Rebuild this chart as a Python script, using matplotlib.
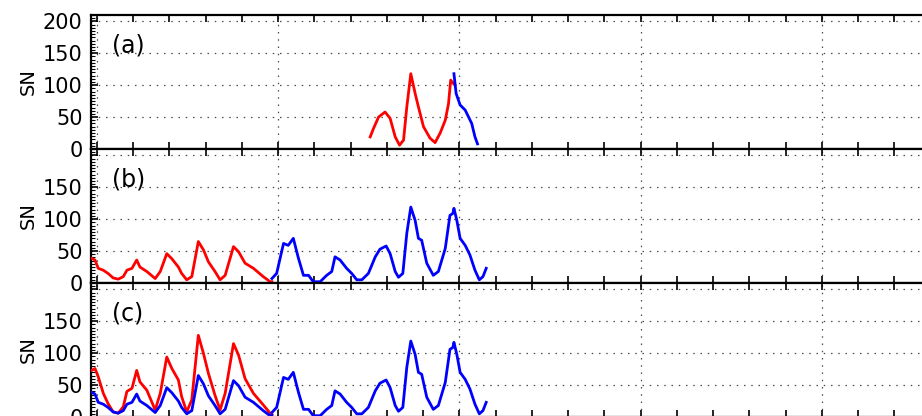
import numpy as np
import matplotlib
matplotlib.use("Agg")
import matplotlib.pyplot as plt
from matplotlib.ticker import MultipleLocator

# early record (before ~1648)
early_years = [1598.6, 1599.5, 1600.4, 1601.8, 1603.1, 1604.5, 1605.9, 1607.3, 1608.3, 1609.7,
               1611.0, 1611.9, 1613.8, 1616.1, 1617.5, 1619.3, 1620.7, 1622.5, 1623.4, 1624.8,
               1626.2, 1628.0, 1629.4, 1630.8, 1632.6, 1634.0, 1635.4, 1637.7, 1639.1, 1640.9,
               1643.2, 1645.9, 1647.8, 1648.3]
early_sn = [38.6, 36, 23, 20, 15, 8, 6, 10, 20, 23,
            36, 25, 18, 7, 18, 46, 38, 25, 15, 5,
            10, 65, 52, 33, 18, 5, 12, 57, 49, 31,
            23, 10, 2, 2]
early_sn_scaled = [73, 76, 63, 37, 21, 8, 6, 16, 40, 45,
                   73, 55, 42, 11, 37, 94, 76, 58, 32, 8,
                   27, 128, 100, 68, 34, 11, 37, 115, 97, 60,
                   37, 19, 6, 4]

# later record
late_years = [1648.3, 1649.6, 1651.5, 1652.8, 1654.2, 1655.6, 1657.0, 1658.4, 1659.7, 1661.6,
              1663.4, 1664.8, 1665.7, 1667.1, 1668.9, 1670.3, 1671.7, 1673.1, 1674.9, 1676.8,
              1678.1, 1679.8, 1680.9, 1682.3, 1683.2, 1684.4, 1685.5, 1686.6, 1687.8, 1688.7,
              1689.6, 1691.0, 1692.8, 1694.2, 1696.1, 1697.4, 1698.2, 1698.5, 1699.3, 1700.2,
              1701.6, 1702.9, 1704.3, 1705.5, 1706.5, 1707.4]
late_sn = [7, 15, 62, 59, 70, 39, 12, 12, 2, 2,
           12, 18, 41, 36, 23, 15, 5, 5, 15, 41,
           53, 58, 46, 18, 9, 15, 78, 119, 98, 70,
           67, 31, 12, 18, 54, 106, 109, 117, 98, 70,
           59, 44, 20, 5, 10, 23]

# panel (a)
a_red_years = [1675.4, 1676.3, 1677.7, 1679.5, 1680.9, 1682.3, 1683.5, 1684.6, 1685.5, 1686.6,
               1687.8, 1688.7, 1690.1, 1691.9, 1693.3, 1694.7, 1696.1, 1697.0, 1697.6, 1698.3,
               1698.8]
a_red_sn = [19, 32, 50, 58, 48, 19, 6, 14, 66, 118,
            87, 66, 35, 17, 10, 25, 45, 71, 108, 103,
            100]
a_blue_years = [1698.5, 1699.1, 1700.2, 1701.6, 1703.4, 1704.3, 1705.0]
a_blue_sn = [118, 87, 69, 61, 40, 19, 8]

W, H = 922, 416
fig = plt.figure(figsize=(W / 100, H / 100), dpi=100)

left = 91 / W
width = (1000 - 91) / W
ph = 134 / H
bottoms = [(H - 149) / H, (H - 283) / H, (H - 417) / H]
xlim = (1598.4, 1849.1)

panels = [
    ("(a)", [(a_red_years, a_red_sn, "red"), (a_blue_years, a_blue_sn, "blue")]),
    ("(b)", [(early_years, early_sn, "red"), (late_years, late_sn, "blue")]),
    ("(c)", [(early_years, early_sn_scaled, "red"), (early_years, early_sn, "blue"),
             (late_years, late_sn, "blue")]),
]

for i, (lab, series) in enumerate(panels):
    ax = fig.add_axes([left, bottoms[i], width, ph])
    for xs, ys, c in series:
        ax.plot(xs, ys, color=c, lw=2.0, zorder=3, solid_joinstyle="round")
    ax.set_xlim(*xlim)
    ax.set_ylim(0, 210)
    ax.xaxis.set_major_locator(MultipleLocator(50))
    ax.xaxis.set_minor_locator(MultipleLocator(10))
    ax.set_yticks([0, 50, 100, 150, 200])
    if i == 0:
        ax.set_yticklabels(["0", "50", "100", "150", "200"])
    else:
        ax.set_yticklabels(["0", "50", "100", "150", ""])
    ax.yaxis.set_minor_locator(MultipleLocator(5))
    ax.tick_params(which="both", direction="in", top=True, right=True, labelsize=15, pad=6)
    ax.tick_params(which="major", length=5, width=1.2)
    ax.tick_params(axis="x", which="minor", length=5, width=1.2)
    ax.tick_params(axis="y", which="minor", length=3, width=0.8)
    ax.tick_params(axis="x", labelbottom=False)
    ax.grid(True, which="major", color="0.3", linestyle=(0, (1.2, 4.6)), linewidth=0.9)
    for s in ax.spines.values():
        s.set_linewidth(1.6)
    ax.set_ylabel("SN", fontsize=14, labelpad=4)
    ax.text(0.023, 0.77, lab, transform=ax.transAxes, fontsize=17, ha="left", va="center")

fig.savefig("out.png", dpi=100)
